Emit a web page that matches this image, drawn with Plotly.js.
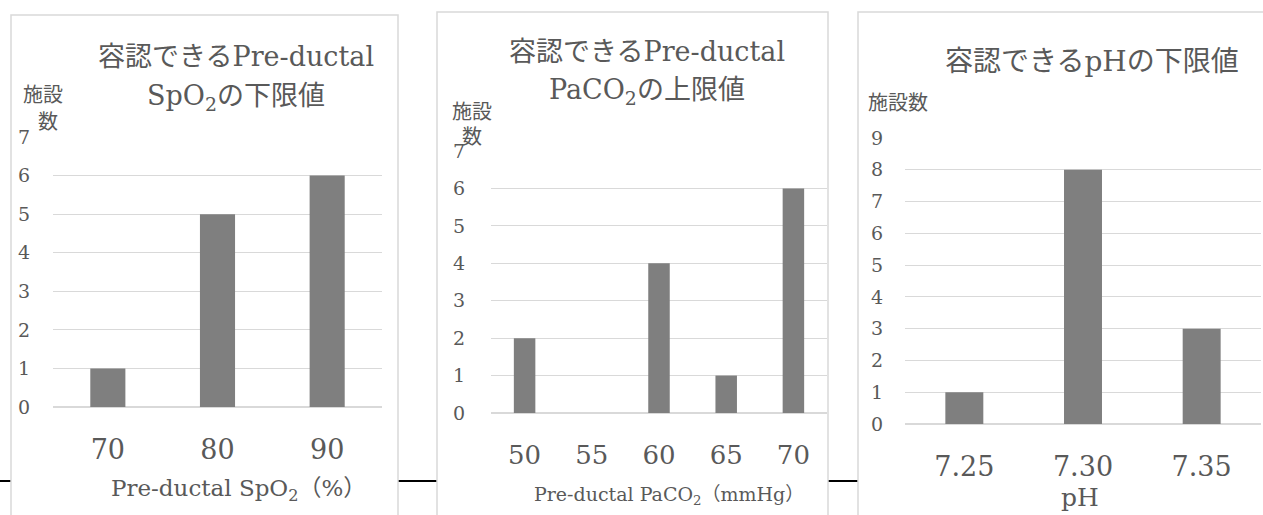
<!DOCTYPE html>
<html>
<head>
<meta charset="utf-8">
<script src="https://cdn.plot.ly/plotly-3.0.1.min.js"></script>
<style>html,body{margin:0;padding:0;background:#fff;}#chart{width:1263px;height:515px;}</style>
</head>
<body>
<div id="chart"></div>
<script>
// ---- data ----
const spo2Categories = ['70', '80', '90'];
const spo2Counts = [1, 5, 6];
const paco2Categories = ['50', '55', '60', '65', '70'];
const paco2Counts = [2, 0, 4, 1, 6];
const phCategories = ['7.25', '7.30', '7.35'];
const phCounts = [1, 8, 3];

const spo2Ticks = [0, 1, 2, 3, 4, 5, 6, 7];
const paco2Ticks = [0, 1, 2, 3, 4, 5, 6, 7];
const phTicks = [0, 1, 2, 3, 4, 5, 6, 7, 8, 9];

const titles = {
  spo2: ['容認できるPre-ductal', 'SpO<sub>2</sub>の下限値'],
  paco2: ['容認できるPre-ductal', 'PaCO<sub>2</sub>の上限値'],
  ph: ['容認できるpHの下限値']
};
const xTitles = {
  spo2: 'Pre-ductal SpO<sub>2</sub>（%）',
  paco2: 'Pre-ductal PaCO<sub>2</sub>（mmHg）',
  ph: 'pH'
};
const yTitle = '施設数';

// ---- layout helpers ----
const W = 1263, H = 515;
const px = x => x / W;
const py = y => 1 - y / H;
const FONT = 'DejaVu Serif, Noto Sans CJK JP, serif';
const TXT = '#595959';
const GRID = '#d9d9d9';
const BAR = '#7f7f7f';

function bar(cats, vals, xa, ya) {
  return {type: 'bar', x: cats, y: vals, xaxis: xa, yaxis: ya,
          marker: {color: BAR}, hoverinfo: 'x+y', showlegend: false};
}

const data = [
  bar(spo2Categories, spo2Counts, 'x', 'y'),
  bar(paco2Categories, paco2Counts, 'x2', 'y2'),
  bar(phCategories, phCounts, 'x3', 'y3')
];

function xaxis(x0, x1, size, anchor) {
  return {domain: [px(x0), px(x1)], anchor: anchor, type: 'category',
          showgrid: false, zeroline: false, showline: false, ticks: '',
          tickfont: {family: FONT, size: size, color: TXT},
          ticklabelstandoff: 24, fixedrange: true};
}
function yaxis(y0px, y1px, range, ticks, anchor, standoff) {
  return {domain: [py(y0px), py(y1px)], anchor: anchor, range: range,
          tickvals: ticks, ticktext: ticks.map(String),
          showgrid: true, gridcolor: GRID, gridwidth: 1,
          zeroline: true, zerolinecolor: GRID, zerolinewidth: 1.5,
          showline: false, ticks: '',
          tickfont: {family: FONT, size: 19, color: TXT},
          ticklabelstandoff: standoff, fixedrange: true};
}

function ann(text, x, y, size, opts) {
  return Object.assign({text: text, x: px(x), y: py(y), xref: 'paper', yref: 'paper',
    xanchor: 'center', yanchor: 'middle', showarrow: false,
    font: {family: FONT, size: size, color: TXT}}, opts || {});
}

const annotations = [
  // panel 1
  ann(titles.spo2[0], 236, 56, 27),
  ann(titles.spo2[1], 236, 98, 27),
  ann(yTitle.slice(0, 2), 43, 95, 20),
  ann(yTitle.slice(2), 48, 122, 20),
  ann(xTitles.spo2, 238, 490, 23),
  // panel 2
  ann(titles.paco2[0], 647, 51, 27),
  ann(titles.paco2[1], 647, 91, 27),
  ann(yTitle.slice(0, 2), 472, 112, 20),
  ann(yTitle.slice(2), 472, 137, 20),
  ann(xTitles.paco2, 669, 495, 19),
  // panel 3
  ann(titles.ph[0], 1092, 61, 28),
  ann(yTitle, 898, 103, 20),
  ann(xTitles.ph, 1080, 497, 25)
];

const shapes = [
  {type: 'line', xref: 'paper', yref: 'paper', x0: 0, x1: px(858), y0: py(481), y1: py(481),
   line: {color: '#000', width: 2}, layer: 'below'},
  {type: 'rect', xref: 'paper', yref: 'paper', x0: px(11), x1: px(398), y0: py(15), y1: py(530),
   line: {color: GRID, width: 1.5}, fillcolor: '#fff', layer: 'below'},
  {type: 'rect', xref: 'paper', yref: 'paper', x0: px(437), x1: px(828), y0: py(12), y1: py(530),
   line: {color: GRID, width: 1.5}, fillcolor: '#fff', layer: 'below'},
  {type: 'rect', xref: 'paper', yref: 'paper', x0: px(858), x1: px(1280), y0: py(12), y1: py(530),
   line: {color: GRID, width: 1.5}, fillcolor: '#fff', layer: 'below'}
];

const layout = {
  width: W, height: H,
  margin: {l: 0, r: 0, t: 0, b: 0, pad: 0},
  paper_bgcolor: '#fff', plot_bgcolor: 'rgba(0,0,0,0)',
  showlegend: false, bargap: 0.68,
  font: {family: FONT, color: TXT},
  xaxis: xaxis(53, 382, 27, 'y'),
  yaxis: yaxis(407, 137, [0, 7], spo2Ticks, 'x', 22),
  xaxis2: xaxis(491, 827, 26, 'y2'),
  yaxis2: yaxis(413, 151, [0, 7], paco2Ticks, 'x2', 25),
  xaxis3: xaxis(905, 1261, 27, 'y3'),
  yaxis3: yaxis(424, 138, [0, 9], phTicks, 'x3', 21),
  annotations: annotations,
  shapes: shapes
};

Plotly.newPlot('chart', data, layout, {staticPlot: true, displayModeBar: false});
</script>
</body>
</html>
